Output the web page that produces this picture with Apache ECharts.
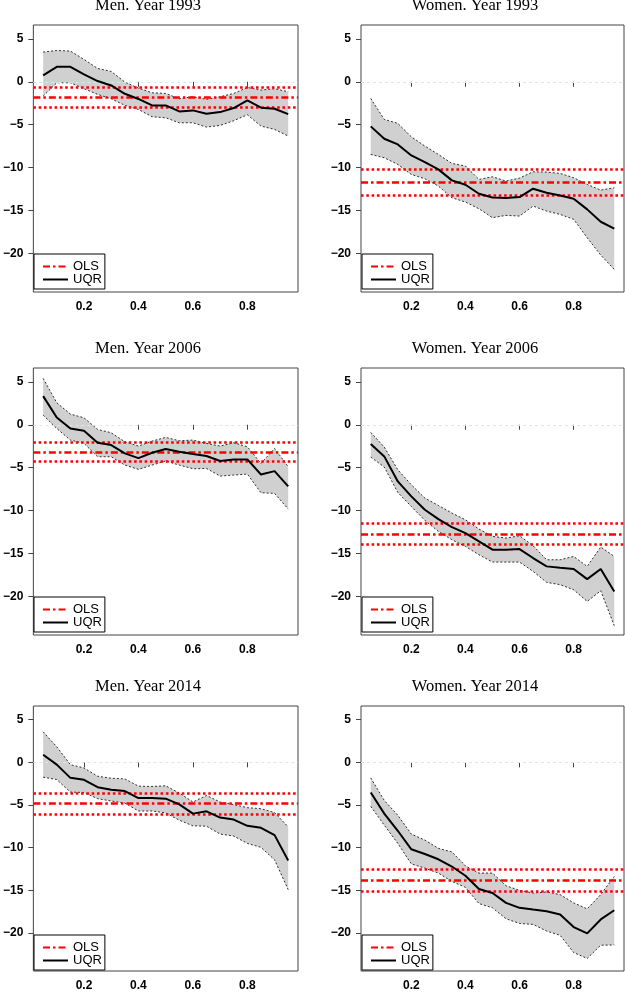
<!DOCTYPE html>
<html><head><meta charset="utf-8">
<script src="https://cdn.jsdelivr.net/npm/echarts@6/dist/echarts.min.js"></script>
<style>html,body{margin:0;padding:0;background:#fff}#c{width:625px;height:992px}</style>
</head><body><div id="c"></div>
<script>
// ---------- data ----------
const quantiles = [0.05,0.10,0.15,0.20,0.25,0.30,0.35,0.40,0.45,0.50,0.55,0.60,0.65,0.70,0.75,0.80,0.85,0.90,0.95];
const xTickLabels = [0.2,0.4,0.6,0.8];
const yTickLabels = [5,0,-5,-10,-15,-20];
const panelTitles = ['Men. Year 1993','Women. Year 1993','Men. Year 2006','Women. Year 2006','Men. Year 2014','Women. Year 2014'];
const legendNames = ['OLS','UQR'];

const men1993_uqr   = [0.74,1.74,1.74,0.85,0.08,-0.43,-1.40,-2.00,-2.75,-2.75,-3.45,-3.33,-3.72,-3.53,-3.06,-2.17,-3.02,-3.14,-3.76];
const men1993_upper = [3.45,3.64,3.57,2.60,1.55,1.20,-0.04,-0.74,-1.28,-1.36,-1.98,-1.74,-2.05,-1.74,-1.36,-0.66,-0.97,-0.81,-1.16];
const men1993_lower = [-1.67,-0.12,-0.12,-0.81,-1.47,-1.98,-2.75,-3.22,-4.07,-4.19,-4.77,-4.77,-5.27,-5.08,-4.53,-3.84,-5.16,-5.54,-6.32];
const men1993_ols   = [-1.82,-0.66,-2.98];

const women1993_uqr   = [-5.19,-6.63,-7.29,-8.57,-9.34,-10.19,-11.47,-11.98,-13.02,-13.45,-13.53,-13.41,-12.44,-12.90,-13.22,-13.60,-14.84,-16.28,-17.09];
const women1993_upper = [-1.94,-4.38,-4.84,-6.40,-7.48,-8.45,-9.50,-9.80,-11.36,-11.05,-11.55,-11.20,-10.47,-10.50,-10.66,-11.16,-11.94,-12.60,-12.33];
const women1993_lower = [-8.45,-8.84,-9.61,-10.78,-11.28,-12.13,-13.49,-13.99,-14.77,-15.81,-15.54,-15.62,-14.46,-15.04,-15.43,-16.00,-18.14,-20.16,-21.82];
const women1993_ols   = [-11.70,-10.23,-13.22];

const men2006_uqr   = [3.33,0.85,-0.43,-0.70,-2.09,-2.36,-3.33,-3.88,-3.26,-2.83,-3.14,-3.41,-3.64,-4.22,-4.03,-4.03,-5.78,-5.39,-7.17];
const men2006_upper = [5.39,2.56,1.24,0.81,-0.54,-0.93,-1.98,-2.48,-1.90,-1.47,-1.86,-1.78,-2.17,-2.48,-2.09,-2.56,-4.50,-2.75,-4.88];
const men2006_lower = [1.12,-0.43,-1.78,-2.17,-3.72,-3.72,-4.69,-5.19,-4.69,-4.22,-4.69,-5.12,-5.08,-5.97,-5.85,-5.74,-7.91,-7.98,-9.81];
const men2006_ols   = [-3.18,-2.02,-4.26];

const women2006_uqr   = [-2.25,-3.68,-6.59,-8.33,-9.88,-10.97,-11.90,-12.60,-13.57,-14.53,-14.53,-14.46,-15.50,-16.47,-16.63,-16.78,-17.95,-16.78,-19.38];
const women2006_upper = [-0.89,-2.60,-5.23,-6.98,-8.53,-9.38,-10.27,-11.05,-12.13,-12.98,-13.18,-12.91,-14.07,-15.70,-15.70,-15.31,-16.47,-14.22,-15.31];
const women2006_lower = [-3.76,-4.92,-7.87,-9.50,-11.12,-12.40,-13.37,-14.15,-15.12,-15.97,-15.97,-15.97,-17.05,-18.33,-18.60,-19.19,-20.54,-19.30,-23.37];
const women2006_ols   = [-12.71,-11.51,-13.84];

const men2014_uqr   = [0.89,-0.27,-1.82,-2.05,-2.91,-3.22,-3.37,-4.19,-4.19,-4.26,-4.92,-6.01,-5.74,-6.47,-6.71,-7.44,-7.67,-8.53,-11.51];
const men2014_upper = [3.57,1.82,-0.27,-0.66,-1.63,-1.86,-1.94,-2.79,-2.83,-2.75,-3.60,-4.65,-3.88,-4.65,-4.96,-5.31,-5.43,-5.89,-7.56];
const men2014_lower = [-1.74,-2.02,-3.49,-3.53,-4.26,-4.53,-4.77,-5.70,-5.70,-5.93,-6.78,-7.44,-7.48,-8.41,-8.64,-9.50,-9.96,-11.43,-14.92];
const men2014_ols   = [-4.84,-3.60,-6.09];

const women2014_uqr   = [-3.53,-6.01,-8.02,-10.19,-10.74,-11.36,-12.21,-13.29,-14.84,-15.31,-16.47,-17.05,-17.25,-17.44,-17.83,-19.30,-20.04,-18.41,-17.33];
const women2014_upper = [-1.82,-4.46,-6.20,-8.41,-9.11,-10.08,-10.50,-12.13,-12.98,-12.98,-14.46,-15.00,-15.31,-15.19,-15.50,-16.47,-17.17,-15.50,-13.37];
const women2014_lower = [-5.16,-7.36,-9.50,-11.90,-12.40,-12.98,-13.95,-14.65,-16.55,-17.05,-18.33,-18.88,-18.99,-19.77,-20.27,-22.29,-22.98,-21.43,-21.40];
const women2014_ols   = [-13.84,-12.52,-15.12];

// ---------- build ----------
const panels = [
  [men1993_uqr, men1993_upper, men1993_lower, men1993_ols],
  [women1993_uqr, women1993_upper, women1993_lower, women1993_ols],
  [men2006_uqr, men2006_upper, men2006_lower, men2006_ols],
  [women2006_uqr, women2006_upper, women2006_lower, women2006_ols],
  [men2014_uqr, men2014_upper, men2014_lower, men2014_ols],
  [women2014_uqr, women2014_upper, women2014_lower, women2014_ols]
];

const colLeft = [33, 361], colWidth = [265, 263];
const rowTop = [25, 368, 706], rowHeight = 267;
const titleX = [148, 475];
const RED = '#ff0000';
const SANS = '"Liberation Sans", Arial, Helvetica, sans-serif';
const SERIF = '"Liberation Serif", "Times New Roman", serif';
const fmt = v => String(v).replace('-', '\u2212');

const grid = [], xAxis = [], yAxis = [], series = [], title = [], legend = [];
panels.forEach((p, i) => {
  const col = i % 2, row = Math.floor(i / 2);
  const [uqr, upper, lower, ols] = p;
  const L = colLeft[col], T = rowTop[row], W = colWidth[col];
  grid.push({left: L, top: T, width: W, height: rowHeight, show: true,
    borderColor: '#444', borderWidth: 1, backgroundColor: '#fff'});
  title.push({text: panelTitles[i], left: titleX[col], top: T - 19.8, textAlign: 'center',
    textVerticalAlign: 'middle', padding: 0,
    textStyle: {fontFamily: SERIF, fontSize: 16.5, fontWeight: 'normal', color: '#000', lineHeight: 20}});
  xAxis.push({gridIndex: i, type: 'value', min: 0.014, max: 0.986,
    axisLine: {show: false}, splitLine: {show: false},
    axisTick: {show: true, length: 5, customValues: xTickLabels, lineStyle: {color: '#444'}},
    axisLabel: {customValues: xTickLabels, margin: 9, fontFamily: SANS, fontSize: 12, fontWeight: 'bold', color: '#000',
      formatter: v => String(v)}});
  yAxis.push({gridIndex: i, type: 'value', min: -24.45, max: 6.6,
    axisLine: {show: false}, splitLine: {show: false},
    axisTick: {show: true, length: 5, customValues: yTickLabels, lineStyle: {color: '#444'}},
    axisLabel: {customValues: yTickLabels, margin: 10, fontFamily: SANS, fontSize: 12, fontWeight: 'bold', color: '#000',
      formatter: fmt}});
  // confidence band polygon, positioned through the axis scales
  series.push({type: 'custom', name: 'band' + i, xAxisIndex: i, yAxisIndex: i, z: 1, silent: true,
    data: [[quantiles[0], lower[0]]],
    renderItem: (params, api) => {
      const top = quantiles.map((q, k) => api.coord([q, upper[k]]));
      const bot = quantiles.map((q, k) => api.coord([q, lower[k]])).reverse();
      return {type: 'polygon', shape: {points: top.concat(bot)}, style: {fill: '#d0d0d0', stroke: null}};
    }});
  series.push({type: 'line', name: 'lower' + i, xAxisIndex: i, yAxisIndex: i,
    data: quantiles.map((q, k) => [q, lower[k]]), symbol: 'none', z: 2, silent: true,
    lineStyle: {color: '#000', width: 0.8, type: [2, 2]}});
  series.push({type: 'line', name: 'upper' + i, xAxisIndex: i, yAxisIndex: i,
    data: quantiles.map((q, k) => [q, upper[k]]), symbol: 'none', z: 2, silent: true,
    lineStyle: {color: '#000', width: 0.8, type: [2, 2]}});
  series.push({type: 'line', name: 'OLS', xAxisIndex: i, yAxisIndex: i, data: [], symbol: 'none', z: 4,
    color: RED, lineStyle: {color: RED, width: 2.5, type: [7, 3, 2.5, 3]},
    markLine: {symbol: ['none', 'none'], silent: true, animation: false, label: {show: false},
      data: [
        {yAxis: 0, lineStyle: {color: '#e4e4e4', width: 1, type: [3, 3]}},
        {yAxis: ols[0], lineStyle: {color: RED, width: 2.5, type: [7, 3, 2.5, 3]}},
        {yAxis: ols[1], lineStyle: {color: RED, width: 2.5, type: [2.6, 2.7]}},
        {yAxis: ols[2], lineStyle: {color: RED, width: 2.5, type: [2.6, 2.7]}}
      ]}});
  series.push({type: 'line', name: 'UQR', xAxisIndex: i, yAxisIndex: i, symbol: 'none', z: 5,
    data: quantiles.map((q, k) => [q, uqr[k]]), color: '#000',
    lineStyle: {color: '#000', width: 2}});
  legend.push({data: legendNames, left: L + 1, top: T + rowHeight - 38, orient: 'vertical',
    itemWidth: 25, itemHeight: 12, itemGap: 0, padding: [6, 3, 3, 8],
    borderColor: '#000', borderWidth: 1, backgroundColor: '#fff', selectedMode: false,
    itemStyle: {opacity: 0, borderWidth: 0},
    textStyle: {fontFamily: SANS, fontSize: 13, color: '#000', lineHeight: 12}});
});

const chart = echarts.init(document.getElementById('c'), null, {renderer: 'canvas'});
chart.setOption({animation: false, backgroundColor: '#fff', title, grid, xAxis, yAxis, legend, series});
</script></body></html>
